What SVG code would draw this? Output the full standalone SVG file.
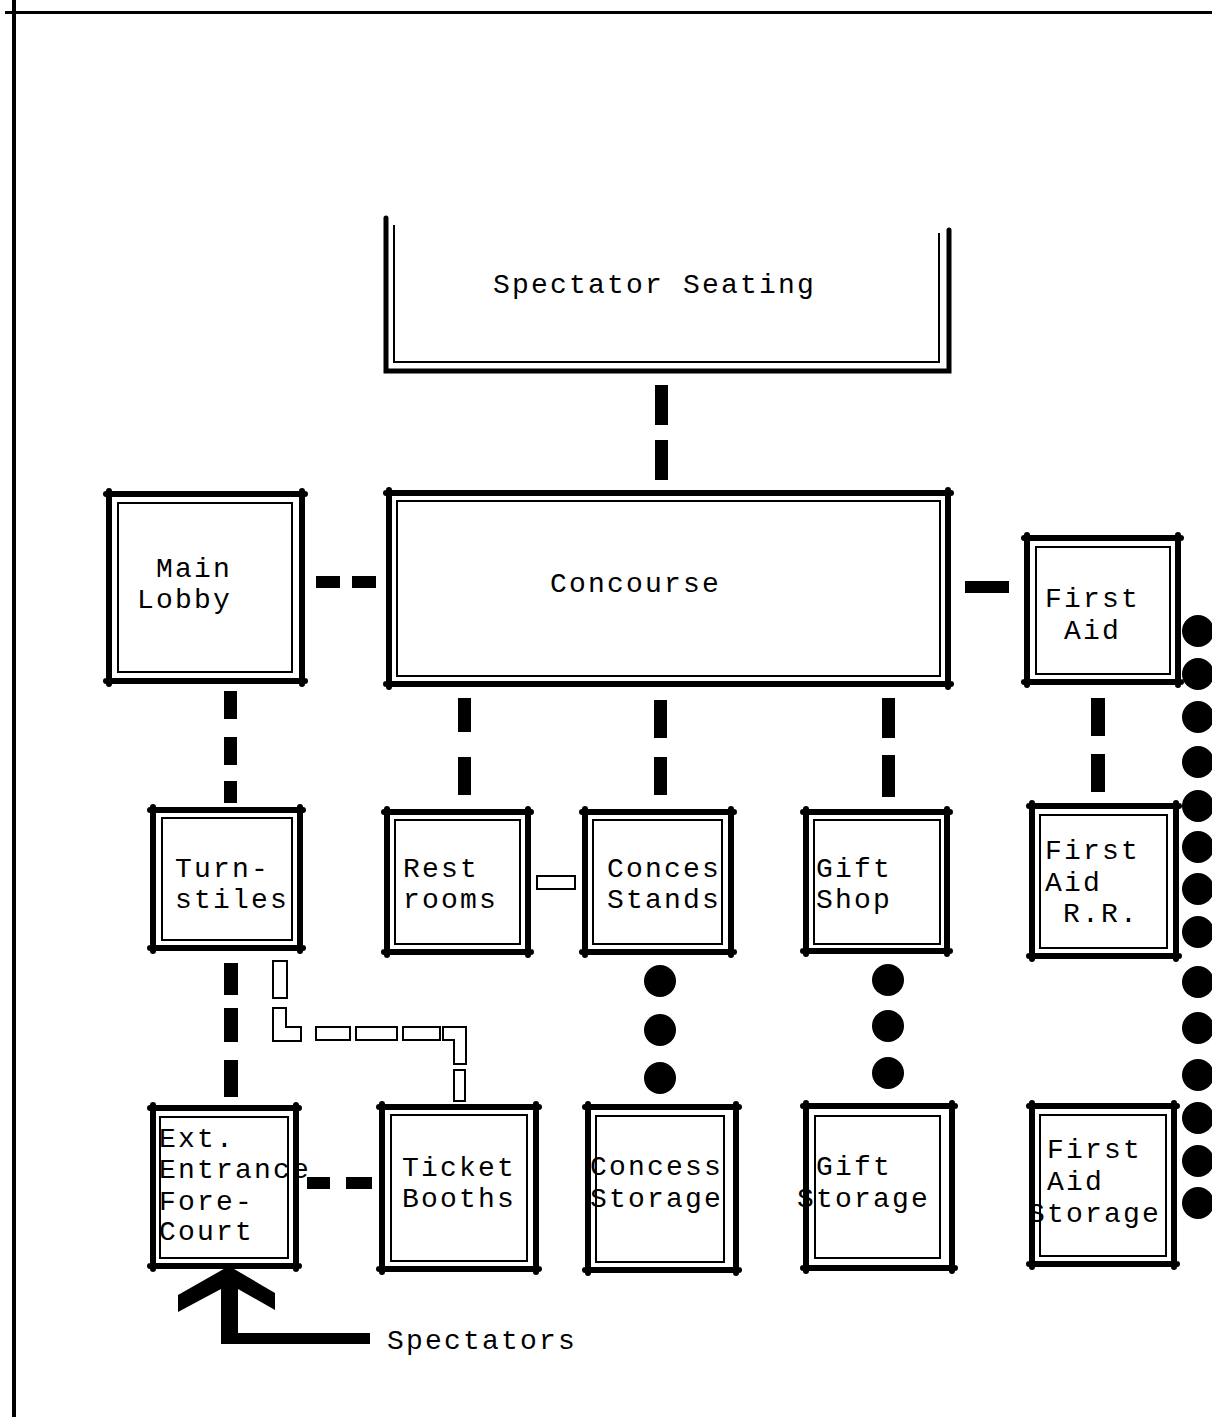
<svg xmlns="http://www.w3.org/2000/svg" width="1212" height="1417" viewBox="0 0 1212 1417">
<style>
.outer{fill:none;stroke:#000;stroke-width:6;stroke-linecap:round}
.inner{fill:none;stroke:#000;stroke-width:2}
.lbl{font-family:"Courier New","Liberation Mono",monospace;font-size:28px;letter-spacing:2.2px;fill:#000}
.blk{fill:#000}
.hol{fill:#fff;stroke:#000;stroke-width:2}
</style>
<rect width="1212" height="1417" fill="#fff"/>
<g id="frame">
<line x1="14" y1="0" x2="14" y2="1417" stroke="#000" stroke-width="4"/>
<line x1="5" y1="12.5" x2="1212" y2="12.5" stroke="#000" stroke-width="3"/>
</g>
<g id="connectors">
<rect class="blk" x="655" y="385" width="13" height="40"/>
<rect class="blk" x="655" y="440" width="13" height="40"/>
<rect class="blk" x="316" y="576" width="24" height="12"/>
<rect class="blk" x="352" y="576" width="24" height="12"/>
<rect class="blk" x="965" y="581" width="44" height="12"/>
<rect class="blk" x="224" y="691" width="13" height="28"/>
<rect class="blk" x="224" y="737" width="13" height="28"/>
<rect class="blk" x="224" y="781" width="13" height="22"/>
<rect class="blk" x="458" y="698" width="13" height="34"/>
<rect class="blk" x="458" y="757" width="13" height="38"/>
<rect class="blk" x="654" y="700" width="13" height="38"/>
<rect class="blk" x="654" y="757" width="13" height="38"/>
<rect class="blk" x="882" y="698" width="13" height="40"/>
<rect class="blk" x="882" y="755" width="13" height="42"/>
<rect class="blk" x="1091" y="698" width="14" height="38"/>
<rect class="blk" x="1091" y="754" width="14" height="38"/>
<rect class="hol" x="537" y="876" width="38" height="13"/>
<rect class="blk" x="224" y="963" width="14" height="32"/>
<rect class="blk" x="224" y="1008" width="14" height="34"/>
<rect class="blk" x="224" y="1060" width="14" height="37"/>
<rect class="hol" x="273" y="961" width="14" height="37"/>
<path class="hol" d="M273 1008H286V1027H301V1041H273Z"/>
<rect class="hol" x="316" y="1027" width="34" height="13"/>
<rect class="hol" x="356" y="1027" width="41" height="13"/>
<rect class="hol" x="403" y="1027" width="37" height="13"/>
<path class="hol" d="M443 1027H466V1064H454V1040H443Z"/>
<rect class="hol" x="454" y="1070" width="11" height="31"/>
<rect class="blk" x="307" y="1177" width="23" height="12"/>
<rect class="blk" x="346" y="1177" width="26" height="12"/>
<circle class="blk" cx="660" cy="981" r="16"/>
<circle class="blk" cx="660" cy="1030" r="16"/>
<circle class="blk" cx="660" cy="1078" r="16"/>
<circle class="blk" cx="888" cy="980" r="16"/>
<circle class="blk" cx="888" cy="1026" r="16"/>
<circle class="blk" cx="888" cy="1073" r="16"/>
<circle class="blk" cx="1198" cy="631" r="16"/>
<circle class="blk" cx="1198" cy="674" r="16"/>
<circle class="blk" cx="1198" cy="717" r="16"/>
<circle class="blk" cx="1198" cy="762" r="16"/>
<circle class="blk" cx="1198" cy="806" r="16"/>
<circle class="blk" cx="1198" cy="847" r="16"/>
<circle class="blk" cx="1198" cy="889" r="16"/>
<circle class="blk" cx="1198" cy="932" r="16"/>
<circle class="blk" cx="1198" cy="982" r="16"/>
<circle class="blk" cx="1198" cy="1028" r="16"/>
<circle class="blk" cx="1198" cy="1075" r="16"/>
<circle class="blk" cx="1198" cy="1118" r="16"/>
<circle class="blk" cx="1198" cy="1161" r="16"/>
<circle class="blk" cx="1198" cy="1203" r="16"/>
<polygon class="blk" points="178,1295 229,1266 275,1293 275,1310 238,1289 238,1333 370,1333 370,1344 221,1344 221,1289 178,1312"/>
</g>
<g id="spectator-seating">
<path d="M386 218V371H949V230" fill="none" stroke="#000" stroke-width="5" stroke-linecap="round"/>
<path d="M394 225V362H939V233" fill="none" stroke="#000" stroke-width="2"/>
<text class="lbl" x="493" y="293">Spectator Seating</text>
</g>
<g id="main-lobby">
<path class="outer" d="M106 494H305M302 491V684M305 681H106M109 684V491"/>
<rect class="inner" x="118" y="503" width="174" height="169"/>
<text class="lbl" x="156" y="577">Main</text>
<text class="lbl" x="137" y="608">Lobby</text>
</g>
<g id="concourse">
<path class="outer" d="M386 493H951M948 490V687M951 684H386M389 687V490"/>
<rect class="inner" x="397" y="501" width="543" height="175"/>
<text class="lbl" x="550" y="592">Concourse</text>
</g>
<g id="first-aid">
<path class="outer" d="M1024 538H1181M1178 535V685M1181 682H1024M1027 685V535"/>
<rect class="inner" x="1036" y="547" width="134" height="127"/>
<text class="lbl" x="1045" y="607">First</text>
<text class="lbl" x="1064" y="639">Aid</text>
</g>
<g id="turnstiles">
<path class="outer" d="M150 810H303M300 807V951M303 948H150M153 951V807"/>
<rect class="inner" x="162" y="818" width="130" height="122"/>
<text class="lbl" x="175" y="877">Turn-</text>
<text class="lbl" x="175" y="908">stiles</text>
</g>
<g id="rest-rooms">
<path class="outer" d="M384 812H531M528 809V955M531 952H384M387 955V809"/>
<rect class="inner" x="395" y="820" width="125" height="124"/>
<text class="lbl" x="403" y="877">Rest</text>
<text class="lbl" x="403" y="908">rooms</text>
</g>
<g id="conces-stands">
<path class="outer" d="M582 812H734M731 809V955M734 952H582M585 955V809"/>
<rect class="inner" x="593" y="820" width="129" height="124"/>
<text class="lbl" x="607" y="877">Conces</text>
<text class="lbl" x="607" y="908">Stands</text>
</g>
<g id="gift-shop">
<path class="outer" d="M803 812H950M947 809V954M950 951H803M806 954V809"/>
<rect class="inner" x="814" y="820" width="126" height="124"/>
<text class="lbl" x="816" y="877">Gift</text>
<text class="lbl" x="816" y="908">Shop</text>
</g>
<g id="first-aid-rr">
<path class="outer" d="M1029 806H1179M1176 803V959M1179 956H1029M1032 959V803"/>
<rect class="inner" x="1040" y="815" width="127" height="133"/>
<text class="lbl" x="1045" y="859">First</text>
<text class="lbl" x="1045" y="891">Aid</text>
<text class="lbl" x="1063" y="922">R.R.</text>
</g>
<g id="ext-entrance">
<path class="outer" d="M150 1108H299M296 1105V1269M299 1266H150M153 1269V1105"/>
<rect class="inner" x="160" y="1117" width="128" height="141"/>
<text class="lbl" x="159" y="1147">Ext.</text>
<text class="lbl" x="159" y="1178">Entrance</text>
<text class="lbl" x="159" y="1210">Fore-</text>
<text class="lbl" x="159" y="1240">Court</text>
</g>
<g id="ticket-booths">
<path class="outer" d="M379 1107H539M536 1104V1272M539 1269H379M382 1272V1104"/>
<rect class="inner" x="391" y="1115" width="136" height="146"/>
<text class="lbl" x="402" y="1176">Ticket</text>
<text class="lbl" x="402" y="1207">Booths</text>
</g>
<g id="concess-storage">
<path class="outer" d="M585 1107H739M736 1104V1273M739 1270H585M588 1273V1104"/>
<rect class="inner" x="596" y="1116" width="128" height="146"/>
<text class="lbl" x="590" y="1175">Concess</text>
<text class="lbl" x="590" y="1207">Storage</text>
</g>
<g id="gift-storage">
<path class="outer" d="M803 1106H955M952 1103V1271M955 1268H803M806 1271V1103"/>
<rect class="inner" x="815" y="1116" width="125" height="142"/>
<text class="lbl" x="816" y="1175">Gift</text>
<text class="lbl" x="797" y="1207">Storage</text>
</g>
<g id="first-aid-storage">
<path class="outer" d="M1029 1106H1177M1174 1103V1267M1177 1264H1029M1032 1267V1103"/>
<rect class="inner" x="1040" y="1115" width="126" height="141"/>
<text class="lbl" x="1047" y="1158">First</text>
<text class="lbl" x="1047" y="1190">Aid</text>
<text class="lbl" x="1028" y="1222">Storage</text>
</g>
<g id="spectators-label">
<text class="lbl" x="387" y="1349">Spectators</text>
</g>
</svg>
